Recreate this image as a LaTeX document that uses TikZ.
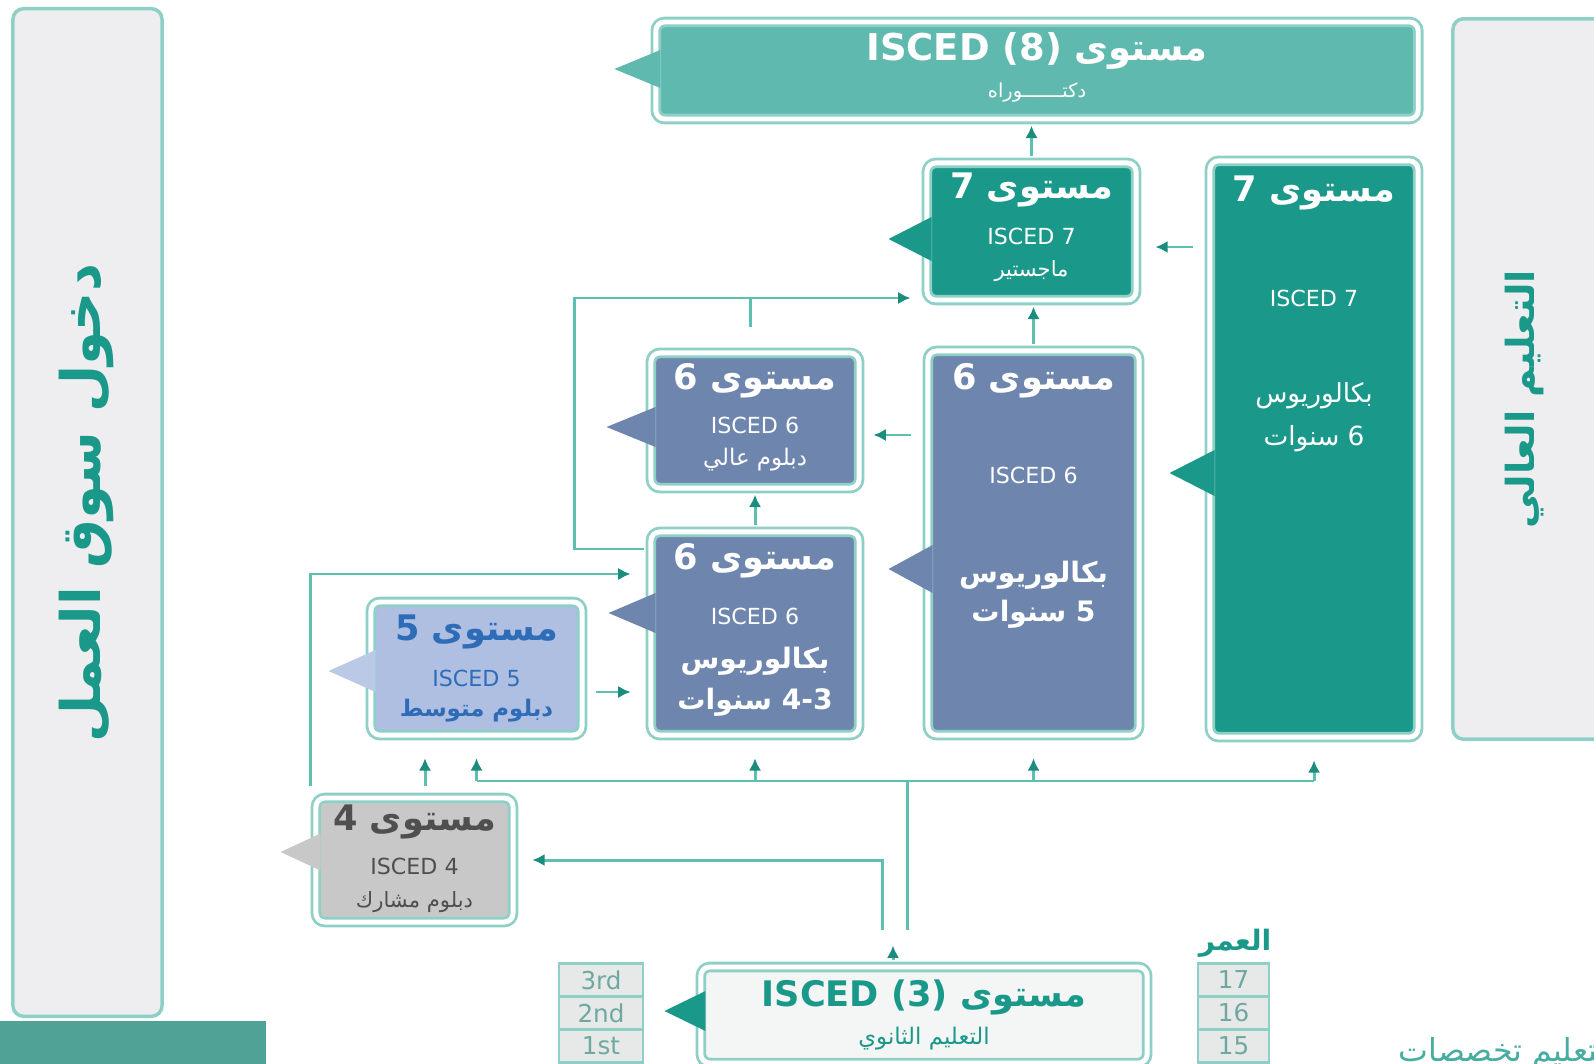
\documentclass[tikz,border=0pt]{standalone}
\usepackage{fontspec}
\setmainfont{DejaVu Sans}
\newfontfamily\arfont[Script=Arabic]{DejaVu Sans}
\TeXXeTstate=1
\usetikzlibrary{arrows.meta}
\usetikzlibrary{calc}
\definecolor{frameclr}{HTML}{8FD0C6}
\definecolor{linkclr}{HTML}{5CBFB0}
\definecolor{tipclr}{HTML}{1B8C7E}
\definecolor{tealdk}{HTML}{1A988A}
\definecolor{tealmd}{HTML}{60B9AF}
\definecolor{slate}{HTML}{6E85AD}
\definecolor{lblue}{HTML}{AEBFE2}
\definecolor{lbluetxt}{HTML}{2E6CB8}
\definecolor{greybox}{HTML}{C8C8C8}
\definecolor{greytxt}{HTML}{4F4F4F}
\definecolor{panelclr}{HTML}{EEEEF0}
\definecolor{barclr}{HTML}{4FA396}
\definecolor{cellfill}{HTML}{E6E9E8}
\definecolor{celltxt}{HTML}{6FA8A0}
\definecolor{lowfill}{HTML}{F4F5F5}
\newcommand\artxt[1]{{\arfont\beginR #1\endR}}
\tikzset{
    lvl/.style={draw=frameclr, double=white, double distance=1.4pt, line width=0.8pt,
        rounded corners=2.5pt, fill=#1, inner sep=0pt},
    panel/.style={draw=frameclr, line width=1pt, rounded corners=3pt, fill=panelclr, inner sep=0pt},
    ttl/.style={font=\fontsize{10}{12}\selectfont\bfseries, text=white, inner sep=0pt},
    isc/.style={font=\fontsize{6.3}{7}\selectfont, text=white, inner sep=0pt},
    sub/.style={font=\fontsize{6}{7}\selectfont, text=white, inner sep=0pt},
    big/.style={font=\fontsize{7.5}{9}\selectfont, text=white, inner sep=0pt},
    cell/.style={draw=frameclr, line width=0.7pt, fill=cellfill, inner sep=0pt,
        minimum height=0.33cm, text=celltxt, font=\fontsize{7}{8}\selectfont},
    link/.style={draw=linkclr, line width=0.85pt, shorten <=1.5pt, shorten >=1.5pt,
        -{Latex[length=3.5pt,width=3.5pt,color=tipclr]}},
    line/.style={draw=linkclr, line width=0.85pt},
}
\begin{document}
\begin{tikzpicture}[x=0.01cm, y=-0.01cm]
  \useasboundingbox (0,0) rectangle (1594,1064);
  \clip (0,0) rectangle (1594,1064);

  % side panels
  \node[panel, minimum width=1.49cm, minimum height=10.07cm] (market) at (87.5,512.5) {};
  \node[text=tealdk, rotate=90, font=\fontsize{15.5}{18}\selectfont\bfseries] (market-t) at (86,503) {\artxt{دخول سوق العمل}};
  \node[panel, minimum width=1.97cm, minimum height=7.2cm] (higher) at (1551.5,379) {};
  \node[text=tealdk, rotate=90, font=\fontsize{11}{13}\selectfont\bfseries] (higher-t) at (1525,399) {\artxt{التعليم العالي}};
  \fill[barclr] (0,1021) rectangle (266,1064);

  % level boxes
  \node[lvl=tealmd, minimum width=7.62cm, minimum height=0.97cm] (L8) at (1037,70.5) {};
  \node[lvl=tealdk, minimum width=2.09cm, minimum height=1.37cm] (L7a) at (1031.5,231.5) {};
  \node[lvl=tealdk, minimum width=2.08cm, minimum height=5.76cm] (L7b) at (1314,449) {};
  \node[lvl=slate, minimum width=2.08cm, minimum height=1.35cm] (L6a) at (755,420.5) {};
  \node[lvl=slate, minimum width=2.11cm, minimum height=3.84cm] (L6c) at (1033.5,543) {};
  \node[lvl=slate, minimum width=2.08cm, minimum height=2.03cm] (L6b) at (755,633.5) {};
  \node[lvl=lblue, minimum width=2.11cm, minimum height=1.33cm] (L5) at (476.5,668.5) {};
  \node[lvl=greybox, minimum width=1.97cm, minimum height=1.24cm] (L4) at (414.5,860) {};
  \node[lvl=lowfill, minimum width=4.46cm, minimum height=0.96cm] (L3) at (924,1015) {};

  % pointers
  \foreach \n/\c/\dy/\d/\h in {L8/tealmd/-1.5/40/19, L7a/tealdk/7.5/37/22, L7b/tealdk/24/39/23,
      L6a/slate/6.5/43/20, L6c/slate/26/38/24, L6b/slate/-20.5/41/20,
      L5/lblue!85!white/2.5/41/21, L4/greybox/-8/34/18.5, L3/tealdk/-4/35/20}
    \fill[\c] ($(\n.west)+(6,\dy-\h)$) -- ($(\n.west)+(-\d,\dy)$) -- ($(\n.west)+(6,\dy+\h)$) -- cycle;

  % texts
  \node[ttl, font=\fontsize{10.5}{12}\selectfont\bfseries] (L8-a) at ($(L8)+(0,-19.5)$) {ISCED (8) \artxt{مستوى}};
  \node[sub, font=\fontsize{5.5}{6}\selectfont] (L8-b) at ($(L8)+(0,22.5)$) {\artxt{دكتـــــــوراه}};

  \node[ttl] (L7a-a) at ($(L7a)+(0,-41.5)$) {7 \artxt{مستوى}};
  \node[isc] (L7a-b) at ($(L7a)+(0,4.5)$) {ISCED 7};
  \node[sub] (L7a-c) at ($(L7a)+(0,39.5)$) {\artxt{ماجستير}};

  \node[ttl] (L7b-a) at ($(L7b)+(0,-256)$) {7 \artxt{مستوى}};
  \node[isc] (L7b-b) at ($(L7b)+(0,-151)$) {ISCED 7};
  \node[big] (L7b-c) at ($(L7b)+(0,-53)$) {\artxt{بكالوريوس}};
  \node[big] (L7b-d) at ($(L7b)+(0,-10)$) {\artxt{سنوات} 6};

  \node[ttl] (L6a-a) at ($(L6a)+(0,-39.5)$) {6 \artxt{مستوى}};
  \node[isc] (L6a-b) at ($(L6a)+(0,4.5)$) {ISCED 6};
  \node[sub, font=\fontsize{6.5}{7}\selectfont] (L6a-c) at ($(L6a)+(0,39.5)$) {\artxt{دبلوم عالي}};

  \node[ttl] (L6c-a) at ($(L6c)+(0,-162)$) {6 \artxt{مستوى}};
  \node[isc] (L6c-b) at ($(L6c)+(0,-68)$) {ISCED 6};
  \node[big, font=\fontsize{8}{9}\selectfont\bfseries] (L6c-c) at ($(L6c)+(0,32)$) {\artxt{بكالوريوس}};
  \node[big, font=\fontsize{8}{9}\selectfont\bfseries] (L6c-d) at ($(L6c)+(0,71)$) {\artxt{سنوات} 5};

  \node[ttl] (L6b-a) at ($(L6b)+(0,-72.5)$) {6 \artxt{مستوى}};
  \node[isc] (L6b-b) at ($(L6b)+(0,-17.5)$) {ISCED 6};
  \node[big, font=\fontsize{8}{9}\selectfont\bfseries] (L6b-c) at ($(L6b)+(0,27.5)$) {\artxt{بكالوريوس}};
  \node[big, font=\fontsize{8}{9}\selectfont\bfseries] (L6b-d) at ($(L6b)+(0,68.5)$) {\artxt{سنوات} 4-3};

  \node[ttl, text=lbluetxt] (L5-a) at ($(L5)+(0,-36.5)$) {5 \artxt{مستوى}};
  \node[isc, text=lbluetxt] (L5-b) at ($(L5)+(0,9.5)$) {ISCED 5};
  \node[sub, text=lbluetxt, font=\fontsize{6.5}{7}\selectfont\bfseries] (L5-c) at ($(L5)+(0,42.5)$) {\artxt{دبلوم متوسط}};

  \node[ttl, text=greytxt] (L4-a) at ($(L4)+(0,-38)$) {4 \artxt{مستوى}};
  \node[isc, text=greytxt] (L4-b) at ($(L4)+(0,6)$) {ISCED 4};
  \node[sub, text=greytxt] (L4-c) at ($(L4)+(0,42)$) {\artxt{دبلوم مشارك}};

  \node[ttl, text=tealdk] (L3-a) at ($(L3)+(0,-18)$) {ISCED (3) \artxt{مستوى}};
  \node[sub, text=tealdk, font=\fontsize{6.5}{7}\selectfont] (L3-b) at ($(L3)+(0,24)$) {\artxt{التعليم الثانوي}};

  % grade and age cells
  \foreach \t/\y [count=\i] in {3rd/980,2nd/1013,1st/1046}
    \node[cell, minimum width=0.84cm] (g\i) at (601,\y) {\t};
  \foreach \t/\y in {17/980,16/1013,15/1046}
    \node[cell, minimum width=0.71cm] (a\t) at (1233.5,\y) {\t};
  \node[text=tealdk, font=\fontsize{8}{9}\selectfont\bfseries, inner sep=0pt] (age) at (1235,943) {\artxt{العمر}};
  \node[text=tealdk!80!white, font=\fontsize{9}{10}\selectfont, anchor=base west, inner sep=0pt] (note) at (1398,1061) {\artxt{التعليم تخصصات}};

  % coordinates
  \coordinate (c7) at ($(L7a.east)+(0,15.5)$);
  \coordinate (c6) at ($(L6a.east)+(0,14.5)$);
  \coordinate (loopin) at ($(L7a.west)+(0,66.5)$);
  \coordinate (stub) at (750,298);
  \coordinate (c6b) at ($(L6b.west)+(0,-59.5)$);
  \coordinate (c5) at ($(L5.east)+(0,23.5)$);
  \coordinate (c4) at ($(L4.north)+(10.5,0)$);
  \coordinate (c4w) at ($(L4.north west)+(-4,0)$);
  \coordinate (bus) at (907,781);
  \coordinate (feed) at (907,930);
  \coordinate (feed2) at (882,930);
  \coordinate (c3) at ($(L3.north)+(-31,0)$);

  % connectors
  \draw[link] (L7a.north) -- (L7a.north |- L8.south);
  \draw[link] (L6c.north) -- (L6c.north |- L7a.south);
  \draw[link, shorten <=4.3pt, shorten >=5.1pt] (L7b.west |- c7) -- (c7);
  \draw[link, shorten <=4.3pt, shorten >=3.7pt] (L6c.west |- c6) -- (c6);
  \draw[link] (L6b.north) -- (L6b.north |- L6a.south);
  \draw[link, shorten >=4.3pt] ($(L6b.west)+(0,-84.5)$) -- ++(-75,0) |- (loopin);
  \draw[line] (stub) -- ++(0,29);
  \draw[link, shorten <=3pt, shorten >=5.4pt] (c4w) |- (c6b);
  \draw[link, shorten <=3.7pt, shorten >=5.4pt] (c5) -- (c5 -| L6b.west);
  \draw[link, shorten <=3pt, shorten >=6.2pt] (c4) -- (c4 |- L5.south);
  \draw[line] (feed) -- (bus);
  \draw[line] (L5.south |- bus) -- (L7b.south |- bus);
  \foreach \n in {L5,L6b,L6c,L7b}
    \draw[link, shorten <=0pt, shorten >=6.2pt] (\n.south |- bus) -- (\n.south);
  \draw[link, shorten <=0pt, shorten >=5.1pt] (feed2) |- (L4.east);
  \draw[link, shorten >=0pt] (c3) -- ++(0,-20);
\end{tikzpicture}
\end{document}
